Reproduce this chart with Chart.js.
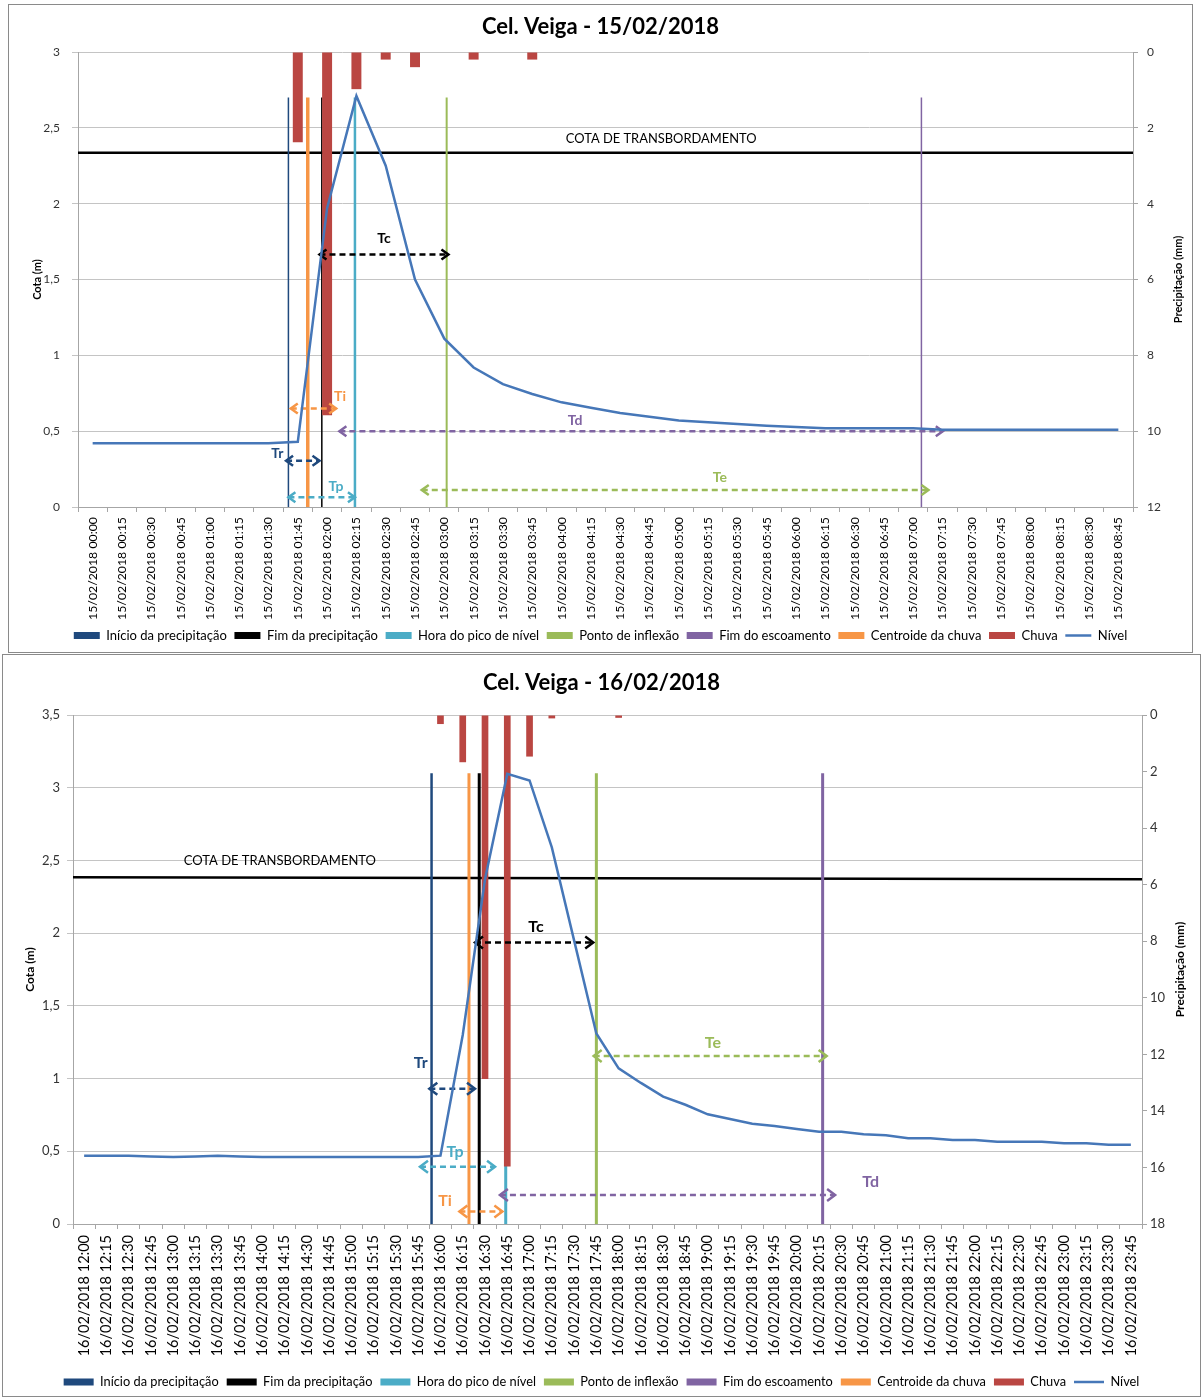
<!DOCTYPE html>
<html><head><meta charset="utf-8">
<script src="https://cdn.jsdelivr.net/npm/chart.js@4.4.1/dist/chart.umd.min.js"></script>
<style>
body{margin:0;background:#fff;width:1203px;height:1399px;position:relative;overflow:hidden;font-family:Lato,sans-serif}
.panel{position:absolute;border:1px solid #8a8a8a;background:#fff}
canvas{display:block}
</style></head><body>
<div class="panel" style="left:8px;top:4px;"><canvas id="c1" width="1183" height="647"></canvas></div>
<div class="panel" style="left:2px;top:654px;"><canvas id="c2" width="1197" height="741"></canvas></div>
<script>
// ---------- DATA ----------
const titulo1 = "Cel. Veiga - 15/02/2018";
const data1 = "15/02/2018";
const horas1 = ["00:00","00:15","00:30","00:45","01:00","01:15","01:30","01:45","02:00","02:15","02:30","02:45",
  "03:00","03:15","03:30","03:45","04:00","04:15","04:30","04:45","05:00","05:15","05:30","05:45",
  "06:00","06:15","06:30","06:45","07:00","07:15","07:30","07:45","08:00","08:15","08:30","08:45"];
const nivel1 = [0.42,0.42,0.42,0.42,0.42,0.42,0.42,0.43,1.97,2.71,2.25,1.50,
  1.11,0.92,0.81,0.745,0.69,0.655,0.62,0.595,0.57,0.558,0.547,0.536,
  0.527,0.52,0.52,0.52,0.52,0.51,0.51,0.51,0.51,0.51,0.51,0.51];
const chuva1 = [null,null,null,null,null,null,null,2.38,9.58,0.98,0.2,0.4,
  null,0.2,null,0.2,null,null,null,null,null,null,null,null,
  null,null,null,null,null,null,null,null,null,null,null,null];
// marker positions (category index units): Início, Fim, Pico, Inflexão, Fim escoamento, Centroide
const marcos1 = [6.68, 7.82, 8.95, 12.08, 28.28, 7.34];
const marcoTopo1 = 2.70;
const cota1 = [2.335, 2.335];
const cotaRotulo1 = [19.4, 2.43];
// arrows: Tc, Ti, Td, Tr, Tp, Te
const setaIni1 = [7.74, 6.76, 8.42, 6.60, 6.68, 11.23];
const setaFim1 = [12.14, 8.31, 29.01, 7.74, 8.95, 28.52];
const setaY1   = [1.665, 0.65, 0.50, 0.305, 0.064, 0.112];
const rotuloX1 = [9.94, 8.44, 16.46, 6.30, 8.30, 21.40];
const rotuloY1 = [1.77, 0.727, 0.57, 0.354, 0.134, 0.196];

const titulo2 = "Cel. Veiga - 16/02/2018";
const data2 = "16/02/2018";
const horas2 = ["12:00","12:15","12:30","12:45","13:00","13:15","13:30","13:45","14:00","14:15","14:30","14:45",
  "15:00","15:15","15:30","15:45","16:00","16:15","16:30","16:45","17:00","17:15","17:30","17:45",
  "18:00","18:15","18:30","18:45","19:00","19:15","19:30","19:45","20:00","20:15","20:30","20:45",
  "21:00","21:15","21:30","21:45","22:00","22:15","22:30","22:45","23:00","23:15","23:30","23:45"];
const nivel2 = [0.47,0.47,0.47,0.465,0.46,0.465,0.47,0.465,0.46,0.46,0.46,0.46,
  0.46,0.46,0.46,0.46,0.47,1.30,2.37,3.095,3.05,2.59,1.95,1.31,
  1.07,0.97,0.876,0.82,0.754,0.722,0.69,0.674,0.653,0.635,0.635,0.617,
  0.61,0.59,0.59,0.578,0.578,0.566,0.566,0.566,0.555,0.555,0.545,0.545];
const chuva2 = [null,null,null,null,null,null,null,null,null,null,null,null,
  null,null,null,null,0.32,1.67,12.87,15.97,1.47,0.12,null,null,
  0.1,null,null,null,null,null,null,null,null,null,null,null,
  null,null,null,null,null,null,null,null,null,null,null,null];
const marcos2 = [15.6, 17.74, 18.93, 23.0, 33.16, 17.28];
const marcoTopo2 = 3.1;
const cota2 = [2.385, 2.37];
const cotaRotulo2 = [8.79, 2.50];
const setaIni2 = [17.55, 16.85, 18.67, 15.50, 15.08, 22.88];
const setaFim2 = [22.86, 18.78, 33.72, 17.55, 18.45, 33.34];
const setaY2   = [1.935, 0.086, 0.20, 0.93, 0.393, 1.155];
const rotuloX2 = [20.29, 16.20, 35.32, 15.11, 16.65, 28.23];
const rotuloY2 = [2.04, 0.162, 0.291, 1.107, 0.495, 1.247];

const setaNomes = ["Tc","Ti","Td","Tr","Tp","Te"];
const legendaNomes = ["Início da precipitação","Fim da precipitação","Hora do pico de nível","Ponto de inflexão","Fim do escoamento","Centroide da chuva","Chuva","Nível"];

// ---------- STYLE ----------
const C = {navy:'#1F497D', black:'#000000', cyan:'#4BACC6', green:'#9BBB59', purple:'#8064A2', orange:'#F79646', red:'#BA4642', blue:'#4677B8'};
const marcoCores = [C.navy, C.black, C.cyan, C.green, C.purple, C.orange];
const setaCores = [C.black, C.orange, C.purple, C.navy, C.cyan, C.green];
const legendaCores = [C.navy, C.black, C.cyan, C.green, C.purple, C.orange, C.red, C.blue];

Chart.defaults.font.family = 'Lato, sans-serif';
Chart.defaults.color = '#000';

function fmt(v){ return String(v).replace('.', ','); }

function build(id, o) {
  const N = o.horas.length;
  const cats = o.horas.map(h => o.data + ' ' + h);
  const datasets = [];
  datasets.push({type:'line', label:'Nível', data:o.nivel, xAxisID:'x', yAxisID:'y', borderColor:C.blue, borderWidth:2.5, pointRadius:0, tension:0, order:0});
  for (let i = 0; i < 6; i++) {
    datasets.push({type:'line', label:setaNomes[i], data:[{x:o.setaIni[i], y:o.setaY[i]},{x:o.setaFim[i], y:o.setaY[i]}],
      xAxisID:'xl', yAxisID:'y', borderColor:setaCores[i], borderWidth:o.setaW, borderDash:[6,4], pointRadius:0, order:1, seta:true});
  }
  datasets.push({type:'bar', label:'Chuva', data:o.chuva, xAxisID:'x', yAxisID:'y1', backgroundColor:C.red,
    barPercentage:o.barPct, categoryPercentage:1, grouped:false, order:2});
  for (let i = 0; i < 6; i++) {
    datasets.push({type:'line', label:'m' + i, data:[{x:o.marcos[i], y:0},{x:o.marcos[i], y:o.topo}],
      xAxisID:'xl', yAxisID:'y', borderColor:marcoCores[i], borderWidth:o.marcoW[i], pointRadius:0, order:3});
  }
  datasets.push({type:'line', label:'Cota', data:[{x:-0.5, y:o.cota[0]},{x:N-0.5, y:o.cota[1]}], xAxisID:'xl', yAxisID:'y', borderColor:'#000', borderWidth:2.5, pointRadius:0, order:4});

  const overlay = {
    id:'overlay',
    afterDatasetDraw(chart, args) {
      const ds = chart.data.datasets[args.index];
      if (!ds.seta) return;
      const ctx = chart.ctx, xs = chart.scales.xl, ys = chart.scales.y;
      const y = ys.getPixelForValue(ds.data[0].y);
      const x0 = xs.getPixelForValue(ds.data[0].x), x1 = xs.getPixelForValue(ds.data[1].x);
      const hl = o.headL, hw = o.headW;
      ctx.save();
      ctx.strokeStyle = ds.borderColor; ctx.lineWidth = ds.borderWidth; ctx.setLineDash([]);
      ctx.beginPath();
      ctx.moveTo(x0 + hl, y - hw); ctx.lineTo(x0, y); ctx.lineTo(x0 + hl, y + hw);
      ctx.moveTo(x1 - hl, y - hw); ctx.lineTo(x1, y); ctx.lineTo(x1 - hl, y + hw);
      ctx.stroke();
      ctx.restore();
    },
    afterDatasetsDraw(chart) {
      const ctx = chart.ctx, xs = chart.scales.xl, ys = chart.scales.y, ca = chart.chartArea;
      ctx.save();
      ctx.textAlign = 'center'; ctx.textBaseline = 'middle';
      ctx.font = 'bold ' + o.rotuloFs + 'px Lato, sans-serif';
      for (let i = 0; i < 6; i++) {
        ctx.fillStyle = setaCores[i];
        ctx.fillText(setaNomes[i], xs.getPixelForValue(o.rotuloX[i]), ys.getPixelForValue(o.rotuloY[i]));
      }
      ctx.fillStyle = '#000';
      ctx.font = o.cotaFs + 'px Lato, sans-serif';
      ctx.fillText('COTA DE TRANSBORDAMENTO', xs.getPixelForValue(o.cotaRotulo[0]), ys.getPixelForValue(o.cotaRotulo[1]));
      ctx.translate(ca.right + o.precOff, (ca.top + ca.bottom) / 2);
      ctx.rotate(-Math.PI / 2);
      ctx.font = 'bold ' + o.axFs + 'px Lato, sans-serif';
      ctx.fillText('Precipitação (mm)', 0, 0);
      ctx.restore();
    }
  };

  return new Chart(document.getElementById(id), {
    type:'line',
    data:{labels:cats, datasets},
    plugins:[overlay],
    options:{
      responsive:false, animation:false, devicePixelRatio:1,
      layout:{padding:{left:0, right:0, top:0, bottom:o.padB}},
      plugins:{
        tooltip:{enabled:false},
        title:{display:true, text:o.titulo, color:'#000', font:{size:o.titleFs, weight:'bold'}, padding:{top:o.titleT, bottom:o.titleB}},
        legend:{display:true, position:'bottom',
          labels:{usePointStyle:true, pointStyleWidth:o.legW, boxHeight:7, padding:o.legP, color:'#000', font:{size:o.legFs},
            generateLabels:() => legendaNomes.map((t, i) => ({text:t + (i < 7 ? o.legSuf : ''), fillStyle:legendaCores[i], strokeStyle:legendaCores[i],
              lineWidth: i === 7 ? 2.5 : 0, pointStyle: i === 7 ? 'line' : 'rect', hidden:false, datasetIndex:0}))}}
      },
      scales:{
        x:{type:'category', position:'bottom', offset:true,
          grid:{display:true, drawOnChartArea:false, drawTicks:true, tickLength:5, offset:true, color:'#A6A6A6'},
          border:{display:true, color:'#A6A6A6'},
          ticks:{autoSkip:false, minRotation:90, maxRotation:90, padding:o.xPad, color:'#000', font:{size:o.xFs}},
          afterFit(s){ s.height = o.xH; }},
        xl:{type:'linear', display:false, offset:false, min:-0.5, max:N - 0.5, grid:{offset:false}},
        y:{type:'linear', position:'left', min:0, max:o.yMax,
          ticks:{stepSize:0.5, callback:v => fmt(v), padding:o.yPad, color:'#333', font:{size:o.yFs}},
          grid:{color:'#C4C4C4', tickLength:6}, border:{color:'#A6A6A6'},
          title:{display:true, text:'Cota (m)', color:'#000', font:{size:o.axFs, weight:'bold'}, padding:{top:o.cotaT, bottom:0}},
          afterFit(s){ s.width = o.yW; }},
        y1:{type:'linear', position:'right', min:0, max:o.y1Max, reverse:true,
          ticks:{stepSize:2, padding:o.y1Pad, color:'#333', font:{size:o.yFs}},
          grid:{drawOnChartArea:false, color:'#A6A6A6', tickLength:5}, border:{color:'#A6A6A6'},
          afterFit(s){ s.width = o.y1W; }}
      }
    }
  });
}

build('c1', {titulo:titulo1, data:data1, horas:horas1, nivel:nivel1, chuva:chuva1, marcos:marcos1, topo:marcoTopo1, cota:cota1,
  cotaRotulo:cotaRotulo1, setaIni:setaIni1, setaFim:setaFim1, setaY:setaY1, rotuloX:rotuloX1, rotuloY:rotuloY1,
  marcoW:[1.5,1.5,2.5,2,1.5,3.5], setaW:2.5, headL:7, headW:5, barPct:0.34, rotuloFs:14, cotaFs:12.9, axFs:11, precOff:45,
  titleFs:22, titleT:8.8, titleB:11.8, legW:26, legFs:13, legP:6, legSuf:'\u2009', padB:0, xPad:5, xFs:12.3, xH:116, yMax:3, yPad:12, yFs:12,
  cotaT:21.4, yW:69, y1Max:12, y1Pad:9, y1W:59});

build('c2', {titulo:titulo2, data:data2, horas:horas2, nivel:nivel2, chuva:chuva2, marcos:marcos2, topo:marcoTopo2, cota:cota2,
  cotaRotulo:cotaRotulo2, setaIni:setaIni2, setaFim:setaFim2, setaY:setaY2, rotuloX:rotuloX2, rotuloY:rotuloY2,
  marcoW:[2.5,3,3,3,3,3], setaW:2.5, headL:8, headW:6, barPct:0.3, rotuloFs:16, cotaFs:13, axFs:12, precOff:38,
  titleFs:22, titleT:14.8, titleB:18.8, legW:30, legFs:12.8, legP:8, legSuf:'', padB:-2.5, xPad:6, xFs:14.5, xH:143.7, yMax:3.5, yPad:7, yFs:13,
  cotaT:19.8, yW:70, y1Max:18, y1Pad:3, y1W:58});
</script>
</body></html>
